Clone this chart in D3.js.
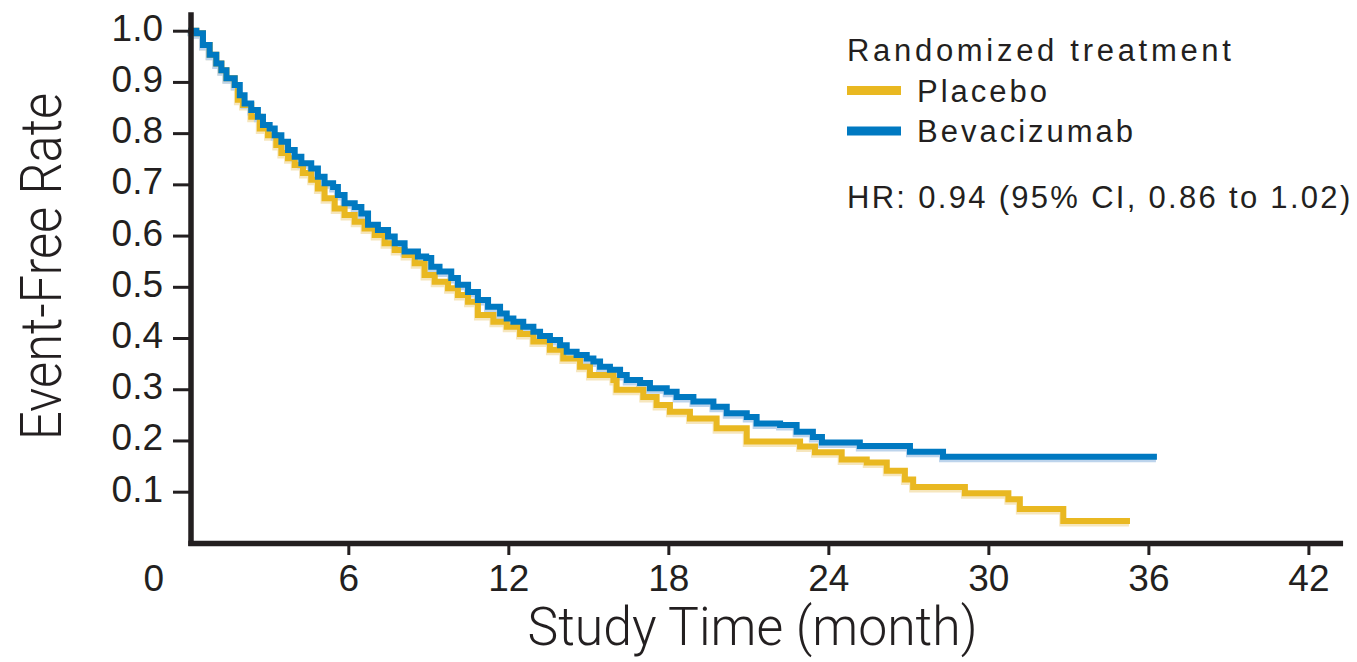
<!doctype html>
<html>
<head>
<meta charset="utf-8">
<script src="https://d3js.org/d3.v7.min.js"></script>
<style>
  body { margin: 0; background: #fff; }
  svg { display: block; }
  .tick text { font-family: "Liberation Sans", Arial, sans-serif; font-size: 37px; fill: #231f20; }
  .legend text { font-family: "Liberation Sans", Arial, sans-serif; font-size: 31px; fill: #231f20; }
  .title { font-family: Roboto, "Liberation Sans", sans-serif; font-weight: 300; font-size: 58px; fill: #231f20; }
</style>
</head>
<body>
<svg width="1357" height="662"></svg>
<script>
// Kaplan-Meier steps: [month, event-free rate]
var placebo = [
  [0,1.0],[0.30,0.995],[0.55,0.972],[0.80,0.953],[1.05,0.936],[1.24,0.923],[1.43,0.907],[1.74,0.894],
  [1.86,0.865],[2.05,0.855],[2.36,0.832],[2.68,0.809],[2.99,0.796],[3.30,0.777],[3.49,0.761],[3.74,0.751],
  [3.99,0.738],[4.30,0.722],[4.61,0.709],[4.86,0.692],[5.11,0.673],[5.49,0.653],[5.86,0.640],[6.24,0.627],
  [6.61,0.614],[6.99,0.601],[7.36,0.585],[7.74,0.572],[8.11,0.562],[8.49,0.546],[8.86,0.523],[9.24,0.510],
  [9.74,0.497],[10.11,0.484],[10.49,0.471],[10.86,0.445],[11.44,0.432],[11.94,0.422],[12.44,0.408],
  [12.94,0.393],[13.56,0.377],[14.06,0.360],[14.69,0.344],[15.06,0.328],[15.94,0.318],[16.06,0.299],
  [17.06,0.285],[17.56,0.269],[18.06,0.256],[18.81,0.243],[19.81,0.224],[20.94,0.198],[22.94,0.188],
  [23.50,0.177],[24.50,0.163],[25.44,0.157],[26.19,0.141],[26.87,0.124],[27.18,0.109],[29.12,0.097],
  [30.75,0.085],[31.18,0.066],[32.81,0.043],[35.31,0.043]
];
var bevacizumab = [
  [0,1.0],[0.30,0.995],[0.55,0.972],[0.80,0.953],[1.05,0.936],[1.24,0.923],[1.43,0.907],[1.74,0.894],
  [1.93,0.874],[2.11,0.858],[2.36,0.845],[2.61,0.832],[2.80,0.816],[3.05,0.809],[3.24,0.796],[3.49,0.783],
  [3.74,0.767],[3.99,0.754],[4.24,0.741],[4.61,0.731],[4.86,0.715],[5.11,0.702],[5.43,0.695],[5.61,0.679],
  [5.86,0.663],[6.24,0.656],[6.49,0.643],[6.74,0.621],[7.11,0.611],[7.49,0.598],[7.74,0.585],[8.11,0.569],
  [8.61,0.559],[8.92,0.556],[9.11,0.539],[9.42,0.530],[9.86,0.517],[10.11,0.504],[10.49,0.490],[10.86,0.474],
  [11.24,0.461],[11.69,0.448],[11.94,0.438],[12.19,0.432],[12.56,0.422],[12.94,0.412],[13.19,0.404],
  [13.56,0.396],[13.94,0.386],[14.19,0.373],[14.56,0.367],[14.94,0.360],[15.19,0.354],[15.44,0.344],
  [15.81,0.338],[16.19,0.328],[16.44,0.318],[16.94,0.312],[17.31,0.302],[17.94,0.295],[18.31,0.285],
  [18.94,0.276],[19.69,0.266],[20.19,0.253],[20.94,0.246],[21.31,0.233],[22.19,0.230],[22.81,0.217],
  [23.42,0.207],[23.76,0.196],[25.18,0.189],[27.06,0.178],[28.30,0.168],[36.32,0.168]
];
var xTicks = [0, 6, 12, 18, 24, 30, 36, 42];
var yTicks = [0.1, 0.2, 0.3, 0.4, 0.5, 0.6, 0.7, 0.8, 0.9, 1.0];
var seriesNames = ["Placebo", "Bevacizumab"];
var seriesColors = ["#e9b821", "#0079c1"];
var haloColors = ["#f6e6bd", "#bdd4ec"];
var legendTitle = "Randomized treatment";
var hrText = "HR: 0.94 (95% CI, 0.86 to 1.02)";

var svg = d3.select("svg");
var ink = "#231f20";

var x = d3.scaleLinear().domain([0, 42]).range([188.3, 1308.4]);
var y = d3.scaleLinear().domain([0, 1]).range([542.9, 30.7]);

// curves (halo first, then line), placebo under bevacizumab
var line = d3.line()
  .x(function(d) { return x(d[0]); })
  .y(function(d) { return y(d[1]); })
  .curve(d3.curveStepAfter);

[placebo, bevacizumab].forEach(function(data, i) {
  svg.append("path")
    .attr("d", line(data))
    .attr("transform", "translate(-1,2.5)")
    .attr("fill", "none")
    .attr("stroke", haloColors[i])
    .attr("stroke-width", 6);
});
[placebo, bevacizumab].forEach(function(data, i) {
  svg.append("path")
    .attr("d", line(data))
    .attr("fill", "none")
    .attr("stroke", seriesColors[i])
    .attr("stroke-width", 6);
});

// y axis
var gy = svg.append("g")
  .attr("transform", "translate(190,0)")
  .call(d3.axisLeft(y).tickValues(yTicks).tickSize(17).tickPadding(10)
    .tickFormat(d3.format(".1f")));
gy.select(".domain").remove();
gy.selectAll(".tick line").attr("stroke", ink).attr("stroke-width", 3);
gy.selectAll(".tick text").attr("dy", 9.5).attr("font-size", null).attr("font-family", null);

// x axis
var gx = svg.append("g")
  .attr("transform", "translate(0,543)")
  .call(d3.axisBottom(x).tickValues(xTicks).tickSize(12));
gx.select(".domain").remove();
gx.selectAll(".tick line").attr("stroke", ink).attr("stroke-width", 3)
  .attr("display", function(d) { return d === 0 ? "none" : null; });
gx.selectAll(".tick text")
  .attr("y", 48).attr("dy", 0)
  .attr("x", function(d) { return d === 0 ? -35 : 0; })
  .attr("font-size", null).attr("font-family", null);

// axis lines
svg.append("line")
  .attr("x1", 191).attr("x2", 191)
  .attr("y1", y(1.036)).attr("y2", y(0) + 3)
  .attr("stroke", ink).attr("stroke-width", 5.5);
svg.append("line")
  .attr("x1", 188.3).attr("x2", x(43.3))
  .attr("y1", 543.5).attr("y2", 543.5)
  .attr("stroke", ink).attr("stroke-width", 5.5);

// axis titles
svg.append("text")
  .attr("class", "title")
  .attr("transform", "translate(61,266.5) rotate(-90)")
  .attr("text-anchor", "middle")
  .attr("textLength", 347)
  .attr("lengthAdjust", "spacingAndGlyphs")
  .text("Event-Free Rate");
svg.append("text")
  .attr("class", "title")
  .attr("x", 752.5).attr("y", 645)
  .style("font-size", "54px")
  .attr("text-anchor", "middle")
  .attr("textLength", 450)
  .attr("lengthAdjust", "spacingAndGlyphs")
  .text("Study Time (month)");

// legend
var lg = svg.append("g").attr("class", "legend");
lg.append("text").attr("x", 847).attr("y", 61).attr("letter-spacing", 3.7).text(legendTitle);
seriesNames.forEach(function(name, i) {
  var cy = 90.5 + i * 40.5;
  lg.append("line")
    .attr("x1", 847).attr("x2", 901).attr("y1", cy).attr("y2", cy)
    .attr("stroke", seriesColors[i]).attr("stroke-width", 9);
  lg.append("text").attr("x", 917).attr("y", cy + 11).attr("letter-spacing", 3).text(name);
});
lg.append("text").attr("x", 847).attr("y", 208).attr("letter-spacing", 2.3).text(hrText);
</script>
</body>
</html>
